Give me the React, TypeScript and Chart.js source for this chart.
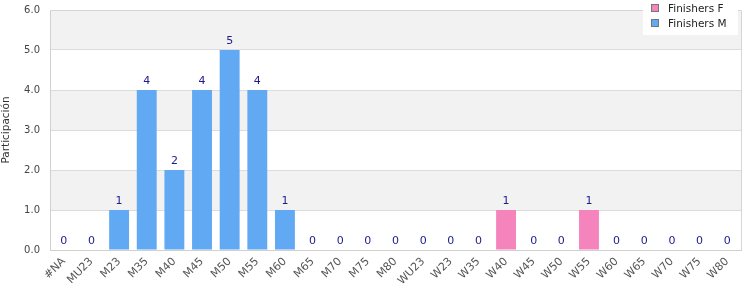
import React, { useEffect, useRef } from "react";
import { Chart, registerables } from "chart.js";

Chart.register(...registerables);

const categories = ["#NA","MU23","M23","M35","M40","M45","M50","M55","M60","M65","M70","M75","M80","WU23","W23","W35","W40","W45","W50","W55","W60","W65","W70","W75","W80"];
const finishersF = [0,0,0,0,0,0,0,0,0,0,0,0,0,0,0,0,1,0,0,1,0,0,0,0,0];
const finishersM = [0,0,1,4,2,4,5,4,1,0,0,0,0,0,0,0,0,0,0,0,0,0,0,0,0];
const yTicks = [0,1,2,3,4,5,6];

const FONT = "'DejaVu Sans', sans-serif";
const PINK = "#f584bd";
const BLUE = "#62a9f4";

const bgPlugin = {
  id: "bgBands",
  beforeDraw(chart: any) {
    const { ctx, chartArea, scales } = chart;
    const y = scales.y;
    ctx.save();
    for (let i = 0; i < yTicks.length - 1; i++) {
      const top = y.getPixelForValue(yTicks[i + 1]);
      const bot = y.getPixelForValue(yTicks[i]);
      ctx.fillStyle = i % 2 === 1 ? "#f2f2f2" : "#ffffff";
      ctx.fillRect(chartArea.left, top, chartArea.right - chartArea.left, bot - top);
    }
    ctx.restore();
  },
};

const labelPlugin = {
  id: "totals",
  afterDatasetsDraw(chart: any) {
    const { ctx, scales, chartArea } = chart;
    ctx.save();
    ctx.strokeStyle = "#d6d6d6";
    ctx.lineWidth = 1;
    ctx.beginPath();
    ctx.moveTo(chartArea.left, Math.round(chartArea.top) + 0.5);
    ctx.lineTo(Math.round(chartArea.right) + 0.5, Math.round(chartArea.top) + 0.5);
    ctx.lineTo(Math.round(chartArea.right) + 0.5, chartArea.bottom);
    ctx.stroke();
    ctx.font = "11px " + FONT;
    ctx.fillStyle = "#1c1c8c";
    ctx.textAlign = "center";
    ctx.textBaseline = "bottom";
    categories.forEach((_, i) => {
      const total = finishersF[i] + finishersM[i];
      const x = scales.x.getPixelForValue(i);
      const yp = scales.y.getPixelForValue(total);
      ctx.fillText(String(total), x, yp - 3);
    });
    ctx.restore();
  },
  afterDraw(chart: any) {
    const { ctx } = chart;
    ctx.save();
    const x0 = 643, y0 = 0, w = 95, h = 35;
    ctx.fillStyle = "#ffffff";
    ctx.fillRect(x0, y0, w, h);
    const items = [["Finishers F", PINK], ["Finishers M", BLUE]];
    ctx.font = "10.5px " + FONT;
    ctx.textBaseline = "middle";
    ctx.textAlign = "left";
    items.forEach(([t, c], i) => {
      const cy = 8 + i * 15;
      ctx.fillStyle = c;
      ctx.fillRect(651, cy - 4, 8, 8);
      ctx.strokeStyle = "#777";
      ctx.lineWidth = 1;
      ctx.strokeRect(651.5, cy - 3.5, 7, 7);
      ctx.fillStyle = "#222";
      ctx.fillText(t, 668, cy + 1);
    });
    ctx.restore();
  },
};

export default function App() {
  const ref = useRef<HTMLCanvasElement>(null);
  useEffect(() => {
    document.body.style.margin = "0";
    const chart = new Chart(ref.current!, {
      type: "bar",
      data: {
        labels: categories,
        datasets: [
          { label: "Finishers F", data: finishersF, backgroundColor: PINK, barPercentage: 0.72, categoryPercentage: 1 },
          { label: "Finishers M", data: finishersM, backgroundColor: BLUE, barPercentage: 0.72, categoryPercentage: 1 },
        ],
      },
      options: {
        responsive: false,
        animation: false,
        layout: { padding: { top: 0, right: 9, left: 0, bottom: 0 } },
        plugins: { legend: { display: false }, tooltip: { enabled: false } },
        scales: {
          x: {
            stacked: true,
            grid: { display: false, drawTicks: false },
            border: { color: "#d0d0d0" },
            ticks: {
              font: { size: 11, family: FONT },
              color: "#555",
              maxRotation: 45,
              minRotation: 45,
              autoSkip: false,
              padding: 5,
            },
            afterFit(s: any) { s.height = 50; s.paddingLeft = 0; s.paddingRight = 0; },
          },
          y: {
            stacked: true,
            min: 0,
            max: 6,
            grid: { color: "#dcdcdc", drawTicks: false },
            border: { color: "#d0d0d0" },
            ticks: {
              stepSize: 1,
              font: { size: 10, family: FONT },
              color: "#444",
              padding: 10,
              callback: (v: any) => Number(v).toFixed(1),
            },
            title: { display: true, text: "Participación", font: { size: 10.5, family: FONT }, color: "#333", padding: 0 },
            afterFit(s: any) { s.width = 50; s.paddingTop = 10; s.paddingBottom = 0; },
          },
        },
      },
      plugins: [bgPlugin, labelPlugin],
    });
    return () => chart.destroy();
  }, []);
  return (
    <div style={{ width: 750, height: 300 }}>
      <canvas ref={ref} width={750} height={300} />
    </div>
  );
}
